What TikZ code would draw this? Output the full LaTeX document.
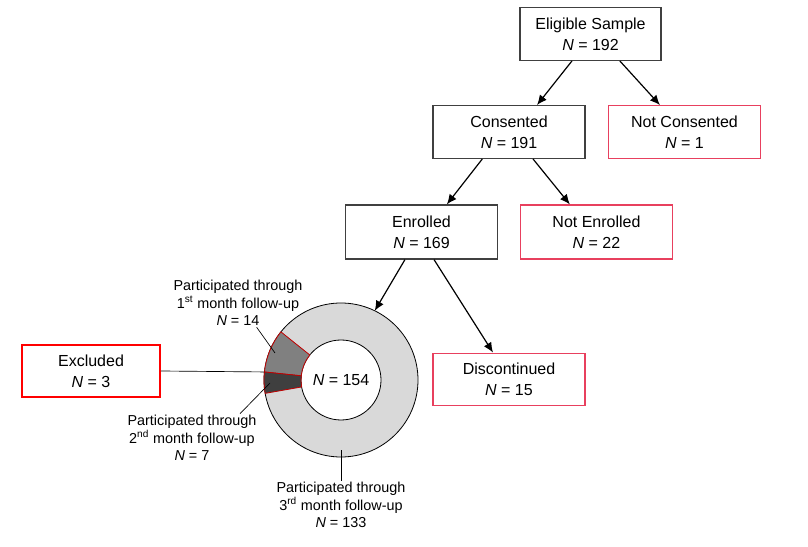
\documentclass[tikz,border=0pt]{standalone}
\usepackage{fontspec}
\setmainfont{Liberation Sans}
\usepackage{tikz}
\usetikzlibrary{arrows.meta,positioning,calc}

\definecolor{boxline}{HTML}{404040}
\definecolor{notline}{HTML}{E8405E}
\definecolor{ringlight}{HTML}{D9D9D9}
\definecolor{ringmid}{HTML}{808080}
\definecolor{ringdark}{HTML}{3F3F3F}
\definecolor{sliceedge}{HTML}{C00000}

\begin{document}
\begin{tikzpicture}[
  x=0.75pt, y=0.75pt,
  box/.style={draw=boxline, line width=0.9pt, minimum width=114pt, minimum height=39.5pt, align=center, font=\fontsize{12}{15.5}\selectfont},
  outbox/.style={box, draw=notline},
  exclbox/.style={box, draw=red, line width=1.5pt, minimum width=103.5pt},
  plabel/.style={align=center, inner sep=1pt, font=\fontsize{10.8}{13.1}\selectfont},
  arrow/.style={-{Latex[length=7.5pt,width=6.5pt]}, line width=0.9pt},
  leader/.style={line width=0.5pt}
]
\useasboundingbox (0,0) rectangle (808,547);

% flow boxes
\node[box, minimum width=105.75pt] (elig) at (590.5,513) {Eligible Sample\\\textit{N} = 192};
\node[box] (cons) at (509,415) {Consented\\\textit{N} = 191};
\node[outbox] (notcons) at (684.5,415) {Not Consented\\\textit{N} = 1};
\node[box, minimum height=40.5pt] (enr) at (421.5,315) {Enrolled\\\textit{N} = 169};
\node[outbox, minimum height=40.5pt] (notenr) at (596.5,315) {Not Enrolled\\\textit{N} = 22};
\node[outbox] (disc) at (509,167.5) {Discontinued\\\textit{N} = 15};
\node[exclbox] (excl) at (91,176) {Excluded\\\textit{N} = 3};

% ring of follow-up
\fill[ringlight, draw=black, line width=0.6pt, even odd rule] (341,167) circle (77) (341,167) circle (40);
\begin{scope}[shift={(341,167)}]
  \filldraw[fill=ringmid, draw=sliceedge, line width=0.6pt] (141.3:77) arc[start angle=141.3, end angle=174, radius=77] -- (174:40) arc[start angle=174, end angle=141.3, radius=40] -- cycle;
  \filldraw[fill=ringdark, draw=sliceedge, line width=0.6pt] (174:77) arc[start angle=174, end angle=190, radius=77] -- (190:40) arc[start angle=190, end angle=174, radius=40] -- cycle;
\end{scope}
\node[circle, minimum size=115.5pt, inner sep=0pt, outer sep=0pt, font=\fontsize{12}{14}\selectfont] (donut) at (341,167) {\textit{N} = 154};

% slice labels
\node[plabel] (p1) at (238,244) {Participated through\\1\textsuperscript{st} month follow-up\\\textit{N} = 14};
\node[plabel] (p2) at (192,109) {Participated through\\2\textsuperscript{nd} month follow-up\\\textit{N} = 7};
\node[plabel] (p3) at (341,42) {Participated through\\3\textsuperscript{rd} month follow-up\\\textit{N} = 133};
\coordinate (l1) at (275,194);
\coordinate (l2) at (270,164);
\coordinate (l3) at (341,97);
\draw[leader] ([xshift=14pt]p1.south) -- (l1);
\draw[leader] ([xshift=36pt]p2.north) -- (l2);
\draw[leader] (p3.north) -- (l3);
\draw[leader] (excl.east) -- (donut.174);

% arrows
\draw[arrow] ([xshift=-13.9pt]elig.south) -- ([xshift=21pt]cons.north);
\draw[arrow] ([xshift=22pt]elig.south) -- ([xshift=-18.4pt]notcons.north);
\draw[arrow] ([xshift=-20pt]cons.south) -- ([xshift=19pt]enr.north);
\draw[arrow] ([xshift=18pt]cons.south) -- ([xshift=-20pt]notenr.north);
\draw[arrow] ([xshift=-12.4pt]enr.south) -- (donut.64);
\draw[arrow] ([xshift=9.4pt]enr.south) -- ([xshift=-12pt]disc.north);
\end{tikzpicture}
\end{document}
